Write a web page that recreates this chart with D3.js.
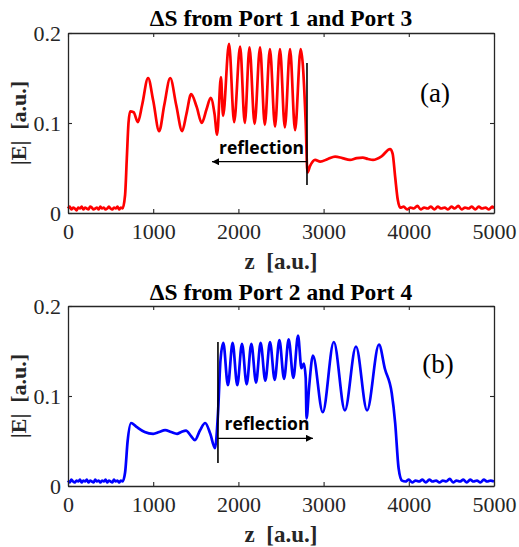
<!DOCTYPE html>
<html>
<head>
<meta charset="utf-8">
<script src="https://cdn.jsdelivr.net/npm/d3@7"></script>
<style>
  html, body { margin: 0; padding: 0; background: #fff; }
  svg { display: block; }
  .serif { font-family: "Liberation Serif", "Times New Roman", Times, serif; }
  .bold { font-weight: bold; }
  .sansb { font-family: "Open Sans", Lato, sans-serif; font-weight: 700; }
</style>
</head>
<body>
<svg id="chart" width="519" height="547"></svg>
<script>
// ---------- data ----------
const xTicks = [0, 1000, 2000, 3000, 4000, 5000];
const yTicks = [0, 0.1, 0.2];
const titles = ["\u0394S from Port 1 and Port 3", "\u0394S from Port 2 and Port 4"];
const panelLabels = ["(a)", "(b)"];
const xLabel = "z\u00a0\u00a0[a.u.]";
const yLabel = "|E|\u00a0\u00a0[a.u.]";
const annotation = "reflection";

const zTop = [0,20,40,60,80,100,120,140,160,180,200,220,240,260,280,300,320,340,360,380,400,420,440,460,480,500,520,540,560,580,600,620,640,
  670,690,710,730,770,820,870,940,1000,1070,1130,1200,1270,1340,1390,1445,1510,1570,1625,1675,1720,1750,
  1795,1820,1890,1950,2020,2075,2130,2190,2254,2310,2370,2430,2488,2545,2606,2665,2731,2790,2810,
  2840,2900,2960,3050,3135,3220,3310,3390,3460,3520,3580,3680,3780,3810,3840,3870,3900,
  3940,3980,4020,4060,4100,4140,4180,4220,4260,4300,4340,4380,4420,4460,4500,4540,4580,4620,4660,4700,4740,4780,4820,4860,4900,4940,4980,5000];
const eTop = [0.005,0.007,0.004,0.006,0.005,0.003,0.006,0.005,0.007,0.004,0.006,0.005,0.004,0.007,0.006,0.004,0.005,0.006,0.004,0.007,0.005,0.006,0.004,0.005,0.007,0.005,0.004,0.006,0.005,0.007,0.004,0.006,0.005,
  0.02,0.06,0.100,0.113,0.112,0.101,0.120,0.150,0.125,0.091,0.120,0.150,0.120,0.091,0.110,0.132,0.118,0.100,0.115,0.128,0.110,0.087,
  0.151,0.108,0.188,0.101,0.185,0.100,0.184,0.099,0.184,0.098,0.182,0.096,0.182,0.095,0.182,0.092,0.182,0.100,0.045,
  0.052,0.059,0.057,0.060,0.0626,0.061,0.059,0.061,0.0615,0.060,0.059,0.063,0.071,0.066,0.040,0.015,0.006,
  0.007,0.004,0.006,0.005,0.008,0.004,0.006,0.005,0.007,0.004,0.007,0.005,0.006,0.004,0.007,0.005,0.008,0.004,0.006,0.005,0.007,0.004,0.007,0.005,0.006,0.004,0.007,0.005];

const zBot = [0,20,40,60,80,100,120,140,160,180,200,220,240,260,280,300,320,340,360,380,400,420,440,460,480,500,520,540,560,580,600,620,640,
  670,700,740,800,900,1000,1070,1140,1210,1280,1330,1385,1440,1490,1550,1610,1670,1725,1760,1790,
  1823,1877,1932,1987,2042,2097,2152,2207,2261,2316,2371,2426,2481,2536,2590,2645,2700,2740,2768,2790,2800,2830,
  2875,2990,3120,3250,3380,3510,3650,3720,3800,3840,3880,3920,
  3960,4000,4040,4080,4120,4160,4200,4240,4280,4320,4360,4400,4440,4480,4520,4560,4600,4640,4680,4720,4760,4800,4840,4880,4920,4960,5000];
const eBot = [0.006,0.004,0.007,0.005,0.004,0.006,0.005,0.007,0.004,0.006,0.005,0.007,0.004,0.006,0.005,0.004,0.007,0.005,0.006,0.004,0.006,0.005,0.007,0.004,0.006,0.005,0.004,0.007,0.005,0.006,0.004,0.006,0.005,
  0.015,0.050,0.070,0.066,0.060,0.058,0.060,0.062,0.060,0.058,0.060,0.0615,0.056,0.051,0.062,0.070,0.058,0.042,0.080,0.140,
  0.159,0.112,0.159,0.112,0.158,0.113,0.158,0.115,0.159,0.117,0.160,0.118,0.162,0.119,0.163,0.120,0.167,0.131,0.136,0.120,0.075,0.110,
  0.145,0.082,0.160,0.084,0.155,0.084,0.157,0.130,0.103,0.070,0.020,0.006,
  0.005,0.007,0.004,0.006,0.005,0.007,0.004,0.007,0.005,0.006,0.004,0.006,0.005,0.008,0.004,0.006,0.005,0.007,0.004,0.007,0.005,0.006,0.004,0.007,0.005,0.006,0.005];

// annotation values: [z of vertical line, E bottom, E top, E arrow, z arrow end]
const markTop = [2805, 0.031, 0.1667, 0.057, 1690];
const markBot = [1760, 0.0256, 0.160, 0.053, 2875];
const lineColors = ["#ff0000", "#0000ff"];

// ---------- layout ----------
const svg = d3.select("#chart");
const x = d3.scaleLinear().domain([0, 5000]).range([68, 494]);
const panels = [
  { y: d3.scaleLinear().domain([0, 0.2]).range([213, 33]), z: zTop, e: eTop, mark: markTop, textDx: 2, lab: [435, 102], titleY: 26, top: 33, bottom: 213 },
  { y: d3.scaleLinear().domain([0, 0.2]).range([486, 306]), z: zBot, e: eBot, mark: markBot, textDx: 1.5, lab: [438, 373], titleY: 300, top: 306, bottom: 486 }
];

svg.append("defs").append("marker")
  .attr("id", "arr").attr("viewBox", "0 0 10 10").attr("refX", 10).attr("refY", 5)
  .attr("markerWidth", 7).attr("markerHeight", 7).attr("markerUnits", "userSpaceOnUse")
  .attr("orient", "auto")
  .append("path").attr("d", "M0,0 L10,5 L0,10 z").attr("fill", "#000");

const axisColor = "#262626";

panels.forEach((p, i) => {
  const g = svg.append("g");
  const y = p.y;

  // curve
  const data = p.z.map((z, k) => [z, p.e[k]]);
  g.append("path").datum(data)
    .attr("fill", "none").attr("stroke", lineColors[i]).attr("stroke-width", 2.7)
    .attr("stroke-linejoin", "round")
    .attr("d", d3.line().x(d => x(d[0])).y(d => y(d[1])).curve(d3.curveMonotoneX));

  // axes (box with inward ticks)
  const tickLen = 4;
  const ax = [
    g.append("g").attr("transform", `translate(0,${p.bottom})`).call(d3.axisBottom(x).tickValues(xTicks).tickSizeInner(-tickLen).tickSizeOuter(0).tickPadding(10).tickFormat(d3.format("d"))),
    g.append("g").attr("transform", `translate(0,${p.top})`).call(d3.axisTop(x).tickValues(xTicks).tickSizeInner(-tickLen).tickSizeOuter(0).tickFormat("")),
    g.append("g").attr("transform", `translate(68,0)`).call(d3.axisLeft(y).tickValues(yTicks).tickSizeInner(-tickLen).tickSizeOuter(0).tickPadding(7).tickFormat(d => d === 0 ? "0" : d3.format(".1f")(d))),
    g.append("g").attr("transform", `translate(494,0)`).call(d3.axisRight(y).tickValues(yTicks).tickSizeInner(-tickLen).tickSizeOuter(0).tickFormat(""))
  ];
  ax.forEach(a => {
    a.attr("font-family", null).attr("font-size", null);
    a.selectAll("path.domain").attr("stroke", axisColor).attr("stroke-width", 1.3);
    a.selectAll(".tick line").attr("stroke", axisColor).attr("stroke-width", 1.1);
    a.selectAll(".tick text").attr("class", "serif").attr("fill", "#262626").style("font-size", "22px");
  });

  // title
  g.append("text").attr("class", "serif bold").attr("x", 281).attr("y", p.titleY).attr("text-anchor", "middle")
    .style("font-size", "23.5px").attr("fill", "#000")
    .text(titles[i]);

  // x label
  g.append("text").attr("class", "serif bold").attr("x", 281).attr("y", p.bottom + 56).attr("text-anchor", "middle")
    .style("font-size", "23px").attr("fill", "#262626")
    .text(xLabel);

  // y label
  g.append("text").attr("class", "serif bold").attr("transform", `translate(26,${(p.top + p.bottom) / 2}) rotate(-90)`)
    .attr("text-anchor", "middle")
    .style("font-size", "22px").attr("fill", "#262626")
    .text(yLabel);

  // panel label
  g.append("text").attr("class", "serif").attr("x", p.lab[0]).attr("y", p.lab[1]).attr("text-anchor", "middle")
    .style("font-size", "27px").attr("fill", "#000")
    .text(panelLabels[i]);

  // reflection marker
  const m = p.mark;
  g.append("line").attr("x1", x(m[0])).attr("x2", x(m[0])).attr("y1", y(m[1])).attr("y2", y(m[2]))
    .attr("stroke", "#000").attr("stroke-width", 1.6);
  g.append("line").attr("x1", x(m[0])).attr("x2", x(m[4])).attr("y1", y(m[3])).attr("y2", y(m[3]))
    .attr("stroke", "#000").attr("stroke-width", 1.3).attr("marker-end", "url(#arr)");
  g.append("text").attr("class", "sansb").attr("x", (x(m[0]) + x(m[4])) / 2 + p.textDx).attr("y", y(m[3]) - 8)
    .attr("text-anchor", "middle")
    .style("font-size", "17.5px").attr("fill", "#000")
    .text(annotation);
});
</script>
</body>
</html>
